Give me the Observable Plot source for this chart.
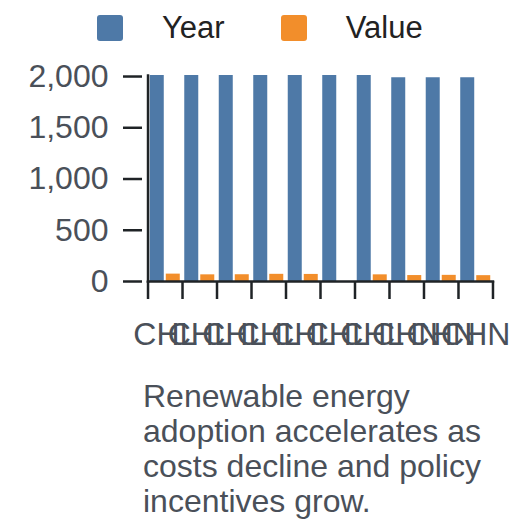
<!DOCTYPE html>
<html>
<head>
<meta charset="utf-8">
<script src="https://cdn.jsdelivr.net/npm/d3@7"></script>
<script src="https://cdn.jsdelivr.net/npm/@observablehq/plot@0.6"></script>
<style>
  html, body { margin: 0; padding: 0; background: #fff; }
  body { width: 528px; height: 528px; overflow: hidden; font-family: "Liberation Sans", Arial, sans-serif; }
  #legend { height: 56px; }
  .lg-swatches { margin: 0 !important; height: 56px !important; min-height: 56px !important; padding-left: 97px; display: flex !important; align-items: center !important; font-family: "Liberation Sans", Arial, sans-serif !important; font-size: 31px !important; color: #222 !important; }
  .lg-swatch { margin-right: 56px !important; }
  .lg-swatch > svg { margin-right: 39px !important; }
  .lg-swatch rect { rx: 3px; ry: 3px; }
  #caption { margin: 23px 0 0 143px; width: 380px; font-size: 32px; line-height: 35px; color: #4a5059; }
</style>
</head>
<body>
<div id="legend"></div>
<div id="chart"></div>
<div id="caption">Renewable energy adoption accelerates as costs decline and policy incentives grow.</div>
<script>
const countries = ["CHL","CHL","CHL","CHL","CHL","CHL","CHL","CHN","CHN","CHN"];
const years = [2010, 2010, 2010, 2010, 2010, 2010, 2010, 1988, 1988, 1988];
const values = [72, 65, 66, 70, 69, null, 65, 58, 60, 57];
const seriesNames = ["Year", "Value"];
const seriesColors = ["#4e79a7", "#f28e2b"];
const yTicks = [0, 500, 1000, 1500, 2000];

const groups = countries.map((c, i) => i);
const rows = [];
groups.forEach(i => {
  rows.push({group: i, series: "Year", v: years[i]});
  if (values[i] != null) rows.push({group: i, series: "Value", v: values[i]});
});

const colorScale = {domain: seriesNames, range: seriesColors};

document.getElementById("legend").append(
  Plot.legend({color: colorScale, className: "lg", swatchSize: 26})
);

const fxPadOuter = 0.16;
const step = 356 / (groups.length + 2 * fxPadOuter);
const outerPx = step * fxPadOuter;
const fmt = d3.format(",");
const axisColor = "#1f2326";
const sw = 2.5;

const chart = Plot.plot({
  width: 528,
  height: 300,
  marginLeft: 142,
  marginRight: 30,
  marginTop: 19,
  marginBottom: 75,
  style: {fontFamily: "Liberation Sans, Arial, sans-serif", background: "white"},
  fx: {domain: groups, paddingInner: 0, paddingOuter: fxPadOuter, round: false, label: null},
  x: {domain: seriesNames, paddingInner: 0.125, paddingOuter: 0.14, round: false, axis: null},
  y: {domain: [0, d3.max(years)], label: null},
  color: colorScale,
  marks: [
    Plot.barY(rows, {fx: "group", x: "series", y: "v", fill: "series"}),
    Plot.axisY({anchor: "left", ticks: yTicks, tickFormat: fmt, tickSize: 19, tickPadding: 15, dx: -outerPx, fontSize: 32, fill: "#4a5059", stroke: axisColor, strokeWidth: sw, strokeOpacity: 1, label: null}),
    Plot.frame({facet: "super", anchor: "left", stroke: axisColor, strokeWidth: sw}),
    Plot.frame({facet: "super", anchor: "bottom", stroke: axisColor, strokeWidth: sw}),
    Plot.axisFx({anchor: "bottom", tickSize: 18, tickFormat: () => "", dx: -step / 2, stroke: axisColor, strokeWidth: sw, strokeOpacity: 1, label: null}),
    Plot.axisFx({anchor: "bottom", ticks: [groups[groups.length - 1]], tickSize: 18, tickFormat: () => "", dx: step / 2, stroke: axisColor, strokeWidth: sw, strokeOpacity: 1, label: null}),
    Plot.axisFx({anchor: "bottom", tickSize: 0, tickPadding: 41, tickFormat: i => countries[i], fontSize: 32, fill: "#4a5059", label: null})
  ]
});
document.getElementById("chart").append(chart);
</script>
</body>
</html>
